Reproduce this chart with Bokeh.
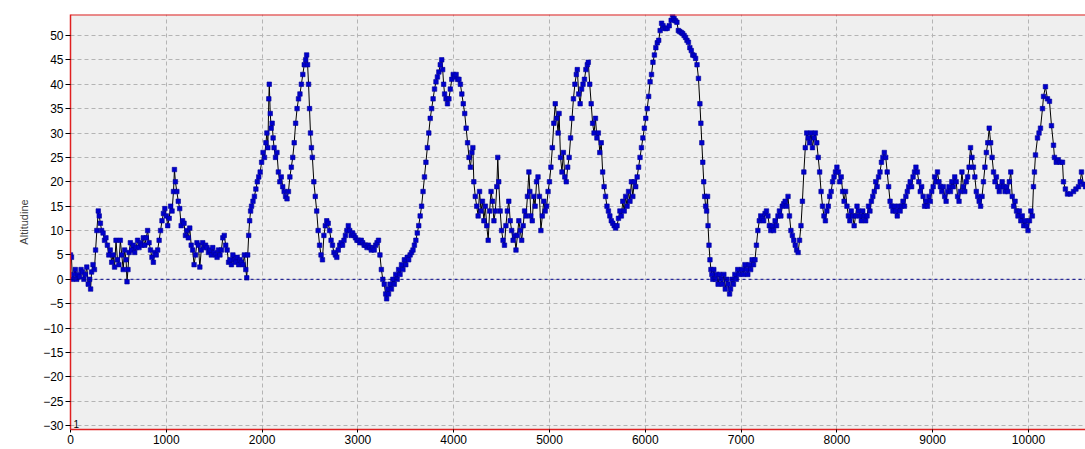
from bokeh.plotting import figure
from bokeh.models import Span, Range1d, FixedTicker, Label, BoxAnnotation
from bokeh.embed import file_html
from bokeh.resources import INLINE

# ---- data: distance (m) and altitude (m) ----
dA = [0,10,20,35,50,65,80,95,110,125,140,155,170,185,200,210,220,235,250,262,275,290,300,312,325,340,355,370,385,400,415,430,445,460,475,490,505,520,535,550,565,580,590,600,612,625,640,655,670,685,700,715,730,745,760,775,790,805,820,835,850,865,880,895,910,925,940,955,970,985]
aA = [5,4.5,0,1,2,0,1,0.5,2,1.5,0,1,2.5,-1,0,-2,1.5,3,2,6,10,14,13,11.5,10,9.5,8,8.5,7,5,6,3.5,5,2.5,8,4,3,8,5,2,6,4,-0.5,2,5.5,7.5,6,7,5.5,6.5,8,6.5,7.5,7,8.5,7,8.5,10,7.5,6,4.5,3.5,5.5,5,6,8,10,12,13.5,14.5]

dB = [1000,1015,1030,1045,1060,1075,1085,1095,1110,1125,1140,1155,1170,1185,1200,1215,1230,1245,1260,1275,1290,1305,1320,1335,1350,1365,1380,1395,1410,1425,1440,1455,1470,1485,1500,1515,1530,1545,1560,1575,1590,1605,1620,1635,1650,1665,1680,1695,1710,1725,1740,1755,1770,1785,1800,1815,1830,1840,1850,1860,1870,1880,1890,1905,1920,1935,1950,1965,1980,1995]
aB = [13,11,12.5,15,14,18,22.5,20,18,16,14.5,11,12,11.5,9,10,8.5,10.5,7,6,3,5,7.5,7,2.5,6,7.5,6.5,7,6.5,5.5,6,5,6.5,5.5,5,4.5,6,5,6,8.5,9,7,6,3.5,4,3,5,4,3.5,4.5,3,4,3.5,3,5,2,0.3,5,9,12,14,15,16,17,18.5,20,21,22,24]

dC = [2010,2025,2040,2050,2060,2070,2075,2085,2095,2105,2115,2125,2140,2155,2170,2185,2200,2215,2230,2245,2260,2275,2290,2305,2320,2335,2350,2365,2380,2395,2410,2425,2440,2455,2465,2475,2485,2495,2505,2515,2525,2540,2555,2570,2585,2600,2615,2630,2645,2660,2675,2690,2705,2720,2735,2750,2765,2780,2795,2810,2825,2840,2855,2870,2885,2900,2915,2930,2945,2960,2975,2990]
aC = [26,25,28,30,27,37,40,34,31,32,29,27,25,26,22,20,21,19,18,17,16.5,18,21,23,25,28,32,35,37,38,40,42,44,45,46,44,40,35,30,27,25,20,17,14,10,7,5,4,9,11,12,11.5,10,8,7,5.5,5,4.5,6,7,7.5,7,8,9,10,11,10,9,9.5,9,8.5,8]

dD = [3005,3020,3035,3050,3065,3080,3095,3110,3125,3140,3155,3170,3185,3200,3215,3230,3245,3260,3275,3290,3300,3310,3320,3335,3350,3365,3380,3395,3410,3425,3440,3455,3470,3485,3500,3515,3530,3545,3560,3575,3590,3605,3620,3635,3650,3665,3680,3695,3710,3725,3740,3755,3770,3785,3800,3815,3830,3845,3860,3875,3885,3895,3905,3920,3935,3950,3965,3980,3995]
aD = [8,7.5,8,7.5,7,7,6.5,7,6.5,6,6.5,6,7,7.5,8,5,2,0,-1,-3,-4,-2,-3,-1,-2,0,-1,1,0,2,1,3,2,4,3,4.5,4,5,5.5,6,7,8,9.5,11,13,15,18,21,24,27,30,33,35,37,39,40.5,41.5,42.5,44,45,43,40,38,37,36,37,39,41,42]

dE = [4010,4025,4040,4055,4070,4085,4100,4115,4130,4145,4160,4175,4190,4200,4210,4225,4240,4255,4270,4285,4300,4315,4330,4345,4360,4375,4390,4405,4420,4435,4450,4460,4470,4485,4500,4515,4530,4545,4560,4575,4590,4605,4620,4635,4650,4665,4680,4695,4710,4725,4740,4755,4770,4785,4795,4805,4820,4835,4850,4865,4880,4895,4910,4925,4940,4955,4970,4985]
aE = [41.5,42,41,41,40,38,36,34,31,28,25,23,26,27,20,17,15,13,18,14,16,12,15,11,8,14,18,16,12,14,19,25,20,14,10,8,7,11,14,16,12,10,8,9,6,9,12,10,8,11,14,13,17,22,18,13,12,17,15,20,21,17,10,13,16,14,15,18]

dF = [5000,5015,5030,5045,5060,5075,5090,5100,5115,5130,5145,5160,5175,5190,5205,5220,5235,5250,5265,5280,5290,5305,5320,5335,5350,5365,5380,5395,5405,5420,5435,5450,5465,5480,5495,5510,5525,5540,5555,5570,5585,5600,5615,5630,5645,5660,5675,5690,5705,5720,5735,5750,5765,5780,5795,5810,5825,5840,5855,5870,5885,5900,5915,5930,5945,5960,5975,5990]
aF = [20,23,27,32,36,33,30,34,25,22,26,21,20,23,25,29,33,37,40,42,43,38,36,39,40,41,43,44,44.5,40,36,32,30,33,29,30,26,28,22,19,17,15,14,13,12,11.5,11,10.5,11,12.5,14,13,16,14,17,15,18,16,20,17,20,19,21,23,25,27,29,31]

dG = [6005,6020,6035,6050,6065,6080,6095,6110,6125,6140,6155,6170,6185,6200,6215,6230,6250,6270,6285,6300,6315,6330,6345,6360,6375,6390,6405,6420,6435,6450,6465,6480,6495,6510,6525,6540,6555,6570,6580,6590,6600,6610,6620,6630,6640,6650,6655,6665,6675,6685,6695,6705,6715,6730,6745,6760,6775,6790,6805,6820,6835,6850,6865,6880,6890,6905,6920,6935,6950,6965,6980]
aG = [33,35,37.5,40.5,42,44.5,46,47.5,48.5,49,51,52.5,52,51.5,51.4,51.5,52,53.1,54.2,53.5,53,52.7,51,50.8,50.6,50.4,50,49.6,49,48.6,47.5,46.9,46,45.9,45.3,44,41.2,36,32,28,24,20,17,15,14,17,11,7,4,2,1,0,2,0,1,-1,1,0,-1,1,-2,0,-1,-3,-2,0,-1,1,0,2,1]

dH = [7010,7025,7040,7055,7070,7085,7100,7115,7130,7145,7160,7175,7190,7205,7220,7235,7250,7265,7280,7295,7310,7325,7340,7355,7370,7385,7400,7415,7430,7445,7460,7475,7490,7505,7520,7535,7550,7565,7580,7595,7610,7625,7640,7655,7670,7685,7700,7715,7730,7745,7760,7775,7790,7805,7820,7835,7850,7865,7880,7895,7910,7925,7940,7955,7970,7985]
aH = [2,1,3,2,1,3,2,4,3,4,7,10,12,13,12.5,12,13.5,14,13,11,10,11,10,12,11,13,14,13,15,15.5,16,15,17,13,10,9,8,7,6,5.5,8,11,16,22,27,30,29,28,30,27,29,30,28,25,22,18,15,13,12,14,15,17,18,20,21,22]

dI = [8000,8015,8030,8045,8060,8075,8090,8105,8120,8135,8150,8165,8180,8195,8210,8225,8240,8255,8270,8285,8300,8315,8330,8345,8360,8375,8390,8405,8420,8435,8450,8465,8480,8495,8510,8525,8540,8555,8570,8585,8600,8615,8630,8645,8660,8675,8690,8705,8720,8735,8750,8765,8780,8795,8810,8825,8840,8855,8870,8885,8900,8915,8930,8945,8960,8975,8990]
aI = [23,22,20,21,18,16,18,15,13,12,14,13,11,13,15,14,13,12,14,13,12,13,15,14,16,17,18,20,19,21,22,24,25,26,25,22,19,16,15,14,15,14,13,15,14,15,16,15,17,18,19,20,19,21,22,23,22,20,18,19,17,15,16,15,17,16,18]

dJ = [9005,9020,9035,9050,9065,9080,9095,9110,9125,9140,9155,9170,9185,9200,9215,9230,9245,9260,9275,9290,9305,9320,9335,9350,9365,9380,9395,9410,9425,9440,9455,9470,9485,9500,9515,9530,9545,9560,9575,9590,9605,9620,9635,9650,9665,9680,9695,9710,9725,9740,9755,9770,9785,9800,9815,9830,9845,9860,9875,9890,9905,9920,9935,9950,9965,9980,9995]
aJ = [19,21,20,22,20,19,18,19,17,16,18,19,18,20,19,21,20,17,16,18,22,19,18,20,21,23,27,25,23,21,18,17,16,15,17,20,23,26,28,31,28,25,22,20,21,19,18,19,20,19,18,19,18,20,22,17,15,16,14,13,14,12,13,11,12,11,10]

dK = [10010,10025,10040,10052,10062,10073,10094,10110,10125,10146,10157,10177,10198,10219,10240,10261,10271,10290,10310,10330,10355,10365,10385,10407,10438,10470,10495,10522,10540,10553,10574,10595]
aK = [12,14,13,19,22,25.5,29,30,31,35,37.5,39.5,37,36.5,31.5,27.5,25,24,24.5,24,24,20,18.5,17.5,17.5,18,18.5,19,20,22,19.5,19]

x_ticks = [0, 1000, 2000, 3000, 4000, 5000, 6000, 7000, 8000, 9000, 10000]
y_ticks = [-30, -25, -20, -15, -10, -5, 0, 5, 10, 15, 20, 25, 30, 35, 40, 45, 50]
y_label = "Altitudine"
first_point_label = "1"

dist, alt = [], []
for d_seg, a_seg in [(dA, aA), (dB, aB), (dC, aC), (dD, aD), (dE, aE), (dF, aF),
                     (dG, aG), (dH, aH), (dI, aI), (dJ, aJ), (dK, aK)]:
    n = min(len(d_seg), len(a_seg))
    dist += d_seg[:n]
    alt += a_seg[:n]

X1 = 10595
Y0, Y1 = -30.8, 54.3
p = figure(width=1085, height=449, output_backend="svg", toolbar_location=None,
           x_range=Range1d(0, X1), y_range=Range1d(Y0, Y1),
           min_border_left=70, min_border_right=0, min_border_top=14, min_border_bottom=20)
p.background_fill_color = "#efefef"
p.border_fill_color = "white"
p.outline_line_color = None

font = "Liberation Sans"
for ax in (p.xaxis, p.yaxis):
    ax.axis_line_color = "#e02020"
    ax.axis_line_width = 1.5
    ax.major_tick_line_color = "black"
    ax.minor_tick_line_color = None
    ax.major_tick_in = 0
    ax.major_label_text_font = font
    ax.major_label_text_font_size = "12px"
    ax.major_label_text_color = "black"

p.xaxis.ticker = FixedTicker(ticks=x_ticks)
p.yaxis.ticker = FixedTicker(ticks=y_ticks)
p.xaxis.major_tick_out = 3
p.xaxis.major_label_standoff = 2
p.yaxis.major_tick_out = 5
p.yaxis.major_label_standoff = 2
p.yaxis.axis_label = y_label
p.yaxis.axis_label_text_font = font
p.yaxis.axis_label_text_font_size = "11px"
p.yaxis.axis_label_text_font_style = "normal"
p.yaxis.axis_label_standoff = 10

for g in (p.xgrid, p.ygrid):
    g.grid_line_color = "#b4b4b4"
    g.grid_line_dash = "4 3"
    g.grid_line_width = 1

# thin grey window edge at the far left
p.add_layout(BoxAnnotation(left=11, right=12, top=0, bottom=449,
                           left_units="canvas", right_units="canvas",
                           top_units="canvas", bottom_units="canvas",
                           fill_color="#a8a8a8", fill_alpha=1.0, line_color=None))

p.add_layout(Span(location=0, dimension="width", line_color="#00008b",
                  line_dash="3 3", line_width=1))
p.add_layout(Span(location=Y1, dimension="width", line_color="#e02020", line_width=2))

p.line(dist, alt, line_color="black", line_width=1)
p.scatter(dist, alt, marker="square", size=4.5, fill_color="#0000cc",
          line_color="#00009a", line_width=0.6)

p.add_layout(Label(x=dist[0], y=Y0, x_offset=3, y_offset=2, text=first_point_label,
                   text_font=font, text_font_size="10px", text_color="black"))

open("out.html", "w").write(file_html(p, INLINE))
